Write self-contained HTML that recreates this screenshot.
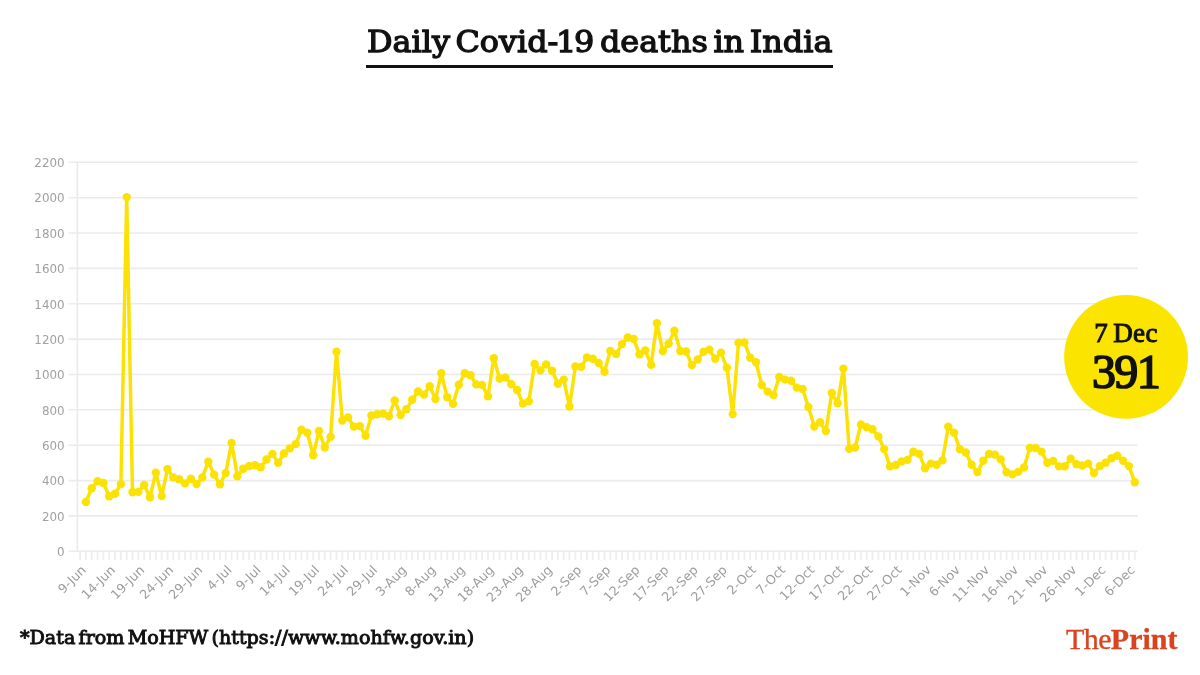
<!DOCTYPE html>
<html><head><meta charset="utf-8"><title>Daily Covid-19 deaths in India</title>
<style>
html,body{margin:0;padding:0;background:#fff;}
body{width:1200px;height:675px;position:relative;overflow:hidden;font-family:"Liberation Serif",serif;}
.title{position:absolute;left:367.2px;top:21.6px;font-family:'DejaVu Serif','Liberation Serif',serif;font-size:30.5px;line-height:40px;color:#111;white-space:nowrap;-webkit-text-stroke:1.3px #111;word-spacing:-4.3px;transform:scaleX(1.044);transform-origin:0 0;}
.title span{letter-spacing:-2.2px;}
.bar{position:absolute;left:366px;top:64.8px;width:467px;height:3.3px;background:#111;}
.foot{position:absolute;left:20.2px;top:624.75px;font-family:'DejaVu Serif','Liberation Serif',serif;font-size:17.8px;line-height:26px;color:#111;white-space:nowrap;-webkit-text-stroke:0.9px #111;word-spacing:-2.6px;transform:scaleX(1.074);transform-origin:0 0;}
.logo{position:absolute;left:1065.5px;top:622px;transform:scaleX(1.033);transform-origin:0 0;font-size:29px;line-height:34px;color:#d9431e;white-space:nowrap;}
.logo b{font-weight:bold;-webkit-text-stroke:0.3px #d9431e;}
.logo span{letter-spacing:-0.55px;-webkit-text-stroke:0.35px #d9431e;}
.b1{position:absolute;left:1064.5px;width:123px;top:317.5px;text-align:center;font-size:27px;line-height:30px;color:#111;white-space:nowrap;-webkit-text-stroke:1.0px #111;word-spacing:-2px;letter-spacing:0.4px;}
.b2{position:absolute;left:1064px;width:123px;top:346.4px;text-align:center;font-size:48px;line-height:52px;color:#111;white-space:nowrap;letter-spacing:-1.7px;-webkit-text-stroke:1.7px #111;}
</style></head><body>
<svg width="1200" height="675" viewBox="0 0 1200 675" style="position:absolute;left:0;top:0">
<g stroke="#ebebeb" stroke-width="1.6" fill="none">
<line x1="68.5" x2="1137.8" y1="551.3" y2="551.3"/>
<line x1="68.5" x2="1137.8" y1="515.9" y2="515.9"/>
<line x1="68.5" x2="1137.8" y1="480.6" y2="480.6"/>
<line x1="68.5" x2="1137.8" y1="445.2" y2="445.2"/>
<line x1="68.5" x2="1137.8" y1="409.8" y2="409.8"/>
<line x1="68.5" x2="1137.8" y1="374.5" y2="374.5"/>
<line x1="68.5" x2="1137.8" y1="339.1" y2="339.1"/>
<line x1="68.5" x2="1137.8" y1="303.8" y2="303.8"/>
<line x1="68.5" x2="1137.8" y1="268.4" y2="268.4"/>
<line x1="68.5" x2="1137.8" y1="233.0" y2="233.0"/>
<line x1="68.5" x2="1137.8" y1="197.7" y2="197.7"/>
<line x1="68.5" x2="1137.8" y1="162.3" y2="162.3"/>
<line x1="77.4" x2="77.4" y1="162.3" y2="551.4"/>
</g>
<g stroke="#eeeeee" stroke-width="1.8">
<line x1="80.1" x2="80.1" y1="551.4" y2="559.9"/>
<line x1="85.9" x2="85.9" y1="551.4" y2="559.9"/>
<line x1="91.7" x2="91.7" y1="551.4" y2="559.9"/>
<line x1="97.6" x2="97.6" y1="551.4" y2="559.9"/>
<line x1="103.4" x2="103.4" y1="551.4" y2="559.9"/>
<line x1="109.2" x2="109.2" y1="551.4" y2="559.9"/>
<line x1="115.0" x2="115.0" y1="551.4" y2="559.9"/>
<line x1="120.9" x2="120.9" y1="551.4" y2="559.9"/>
<line x1="126.7" x2="126.7" y1="551.4" y2="559.9"/>
<line x1="132.5" x2="132.5" y1="551.4" y2="559.9"/>
<line x1="138.3" x2="138.3" y1="551.4" y2="559.9"/>
<line x1="144.2" x2="144.2" y1="551.4" y2="559.9"/>
<line x1="150.0" x2="150.0" y1="551.4" y2="559.9"/>
<line x1="155.8" x2="155.8" y1="551.4" y2="559.9"/>
<line x1="161.7" x2="161.7" y1="551.4" y2="559.9"/>
<line x1="167.5" x2="167.5" y1="551.4" y2="559.9"/>
<line x1="173.3" x2="173.3" y1="551.4" y2="559.9"/>
<line x1="179.1" x2="179.1" y1="551.4" y2="559.9"/>
<line x1="185.0" x2="185.0" y1="551.4" y2="559.9"/>
<line x1="190.8" x2="190.8" y1="551.4" y2="559.9"/>
<line x1="196.6" x2="196.6" y1="551.4" y2="559.9"/>
<line x1="202.4" x2="202.4" y1="551.4" y2="559.9"/>
<line x1="208.3" x2="208.3" y1="551.4" y2="559.9"/>
<line x1="214.1" x2="214.1" y1="551.4" y2="559.9"/>
<line x1="219.9" x2="219.9" y1="551.4" y2="559.9"/>
<line x1="225.7" x2="225.7" y1="551.4" y2="559.9"/>
<line x1="231.6" x2="231.6" y1="551.4" y2="559.9"/>
<line x1="237.4" x2="237.4" y1="551.4" y2="559.9"/>
<line x1="243.2" x2="243.2" y1="551.4" y2="559.9"/>
<line x1="249.1" x2="249.1" y1="551.4" y2="559.9"/>
<line x1="254.9" x2="254.9" y1="551.4" y2="559.9"/>
<line x1="260.7" x2="260.7" y1="551.4" y2="559.9"/>
<line x1="266.5" x2="266.5" y1="551.4" y2="559.9"/>
<line x1="272.4" x2="272.4" y1="551.4" y2="559.9"/>
<line x1="278.2" x2="278.2" y1="551.4" y2="559.9"/>
<line x1="284.0" x2="284.0" y1="551.4" y2="559.9"/>
<line x1="289.8" x2="289.8" y1="551.4" y2="559.9"/>
<line x1="295.7" x2="295.7" y1="551.4" y2="559.9"/>
<line x1="301.5" x2="301.5" y1="551.4" y2="559.9"/>
<line x1="307.3" x2="307.3" y1="551.4" y2="559.9"/>
<line x1="313.2" x2="313.2" y1="551.4" y2="559.9"/>
<line x1="319.0" x2="319.0" y1="551.4" y2="559.9"/>
<line x1="324.8" x2="324.8" y1="551.4" y2="559.9"/>
<line x1="330.6" x2="330.6" y1="551.4" y2="559.9"/>
<line x1="336.5" x2="336.5" y1="551.4" y2="559.9"/>
<line x1="342.3" x2="342.3" y1="551.4" y2="559.9"/>
<line x1="348.1" x2="348.1" y1="551.4" y2="559.9"/>
<line x1="353.9" x2="353.9" y1="551.4" y2="559.9"/>
<line x1="359.8" x2="359.8" y1="551.4" y2="559.9"/>
<line x1="365.6" x2="365.6" y1="551.4" y2="559.9"/>
<line x1="371.4" x2="371.4" y1="551.4" y2="559.9"/>
<line x1="377.2" x2="377.2" y1="551.4" y2="559.9"/>
<line x1="383.1" x2="383.1" y1="551.4" y2="559.9"/>
<line x1="388.9" x2="388.9" y1="551.4" y2="559.9"/>
<line x1="394.7" x2="394.7" y1="551.4" y2="559.9"/>
<line x1="400.6" x2="400.6" y1="551.4" y2="559.9"/>
<line x1="406.4" x2="406.4" y1="551.4" y2="559.9"/>
<line x1="412.2" x2="412.2" y1="551.4" y2="559.9"/>
<line x1="418.0" x2="418.0" y1="551.4" y2="559.9"/>
<line x1="423.9" x2="423.9" y1="551.4" y2="559.9"/>
<line x1="429.7" x2="429.7" y1="551.4" y2="559.9"/>
<line x1="435.5" x2="435.5" y1="551.4" y2="559.9"/>
<line x1="441.3" x2="441.3" y1="551.4" y2="559.9"/>
<line x1="447.2" x2="447.2" y1="551.4" y2="559.9"/>
<line x1="453.0" x2="453.0" y1="551.4" y2="559.9"/>
<line x1="458.8" x2="458.8" y1="551.4" y2="559.9"/>
<line x1="464.7" x2="464.7" y1="551.4" y2="559.9"/>
<line x1="470.5" x2="470.5" y1="551.4" y2="559.9"/>
<line x1="476.3" x2="476.3" y1="551.4" y2="559.9"/>
<line x1="482.1" x2="482.1" y1="551.4" y2="559.9"/>
<line x1="488.0" x2="488.0" y1="551.4" y2="559.9"/>
<line x1="493.8" x2="493.8" y1="551.4" y2="559.9"/>
<line x1="499.6" x2="499.6" y1="551.4" y2="559.9"/>
<line x1="505.4" x2="505.4" y1="551.4" y2="559.9"/>
<line x1="511.3" x2="511.3" y1="551.4" y2="559.9"/>
<line x1="517.1" x2="517.1" y1="551.4" y2="559.9"/>
<line x1="522.9" x2="522.9" y1="551.4" y2="559.9"/>
<line x1="528.8" x2="528.8" y1="551.4" y2="559.9"/>
<line x1="534.6" x2="534.6" y1="551.4" y2="559.9"/>
<line x1="540.4" x2="540.4" y1="551.4" y2="559.9"/>
<line x1="546.2" x2="546.2" y1="551.4" y2="559.9"/>
<line x1="552.1" x2="552.1" y1="551.4" y2="559.9"/>
<line x1="557.9" x2="557.9" y1="551.4" y2="559.9"/>
<line x1="563.7" x2="563.7" y1="551.4" y2="559.9"/>
<line x1="569.5" x2="569.5" y1="551.4" y2="559.9"/>
<line x1="575.4" x2="575.4" y1="551.4" y2="559.9"/>
<line x1="581.2" x2="581.2" y1="551.4" y2="559.9"/>
<line x1="587.0" x2="587.0" y1="551.4" y2="559.9"/>
<line x1="592.8" x2="592.8" y1="551.4" y2="559.9"/>
<line x1="598.7" x2="598.7" y1="551.4" y2="559.9"/>
<line x1="604.5" x2="604.5" y1="551.4" y2="559.9"/>
<line x1="610.3" x2="610.3" y1="551.4" y2="559.9"/>
<line x1="616.2" x2="616.2" y1="551.4" y2="559.9"/>
<line x1="622.0" x2="622.0" y1="551.4" y2="559.9"/>
<line x1="627.8" x2="627.8" y1="551.4" y2="559.9"/>
<line x1="633.6" x2="633.6" y1="551.4" y2="559.9"/>
<line x1="639.5" x2="639.5" y1="551.4" y2="559.9"/>
<line x1="645.3" x2="645.3" y1="551.4" y2="559.9"/>
<line x1="651.1" x2="651.1" y1="551.4" y2="559.9"/>
<line x1="656.9" x2="656.9" y1="551.4" y2="559.9"/>
<line x1="662.8" x2="662.8" y1="551.4" y2="559.9"/>
<line x1="668.6" x2="668.6" y1="551.4" y2="559.9"/>
<line x1="674.4" x2="674.4" y1="551.4" y2="559.9"/>
<line x1="680.3" x2="680.3" y1="551.4" y2="559.9"/>
<line x1="686.1" x2="686.1" y1="551.4" y2="559.9"/>
<line x1="691.9" x2="691.9" y1="551.4" y2="559.9"/>
<line x1="697.7" x2="697.7" y1="551.4" y2="559.9"/>
<line x1="703.6" x2="703.6" y1="551.4" y2="559.9"/>
<line x1="709.4" x2="709.4" y1="551.4" y2="559.9"/>
<line x1="715.2" x2="715.2" y1="551.4" y2="559.9"/>
<line x1="721.0" x2="721.0" y1="551.4" y2="559.9"/>
<line x1="726.9" x2="726.9" y1="551.4" y2="559.9"/>
<line x1="732.7" x2="732.7" y1="551.4" y2="559.9"/>
<line x1="738.5" x2="738.5" y1="551.4" y2="559.9"/>
<line x1="744.4" x2="744.4" y1="551.4" y2="559.9"/>
<line x1="750.2" x2="750.2" y1="551.4" y2="559.9"/>
<line x1="756.0" x2="756.0" y1="551.4" y2="559.9"/>
<line x1="761.8" x2="761.8" y1="551.4" y2="559.9"/>
<line x1="767.7" x2="767.7" y1="551.4" y2="559.9"/>
<line x1="773.5" x2="773.5" y1="551.4" y2="559.9"/>
<line x1="779.3" x2="779.3" y1="551.4" y2="559.9"/>
<line x1="785.1" x2="785.1" y1="551.4" y2="559.9"/>
<line x1="791.0" x2="791.0" y1="551.4" y2="559.9"/>
<line x1="796.8" x2="796.8" y1="551.4" y2="559.9"/>
<line x1="802.6" x2="802.6" y1="551.4" y2="559.9"/>
<line x1="808.4" x2="808.4" y1="551.4" y2="559.9"/>
<line x1="814.3" x2="814.3" y1="551.4" y2="559.9"/>
<line x1="820.1" x2="820.1" y1="551.4" y2="559.9"/>
<line x1="825.9" x2="825.9" y1="551.4" y2="559.9"/>
<line x1="831.8" x2="831.8" y1="551.4" y2="559.9"/>
<line x1="837.6" x2="837.6" y1="551.4" y2="559.9"/>
<line x1="843.4" x2="843.4" y1="551.4" y2="559.9"/>
<line x1="849.2" x2="849.2" y1="551.4" y2="559.9"/>
<line x1="855.1" x2="855.1" y1="551.4" y2="559.9"/>
<line x1="860.9" x2="860.9" y1="551.4" y2="559.9"/>
<line x1="866.7" x2="866.7" y1="551.4" y2="559.9"/>
<line x1="872.5" x2="872.5" y1="551.4" y2="559.9"/>
<line x1="878.4" x2="878.4" y1="551.4" y2="559.9"/>
<line x1="884.2" x2="884.2" y1="551.4" y2="559.9"/>
<line x1="890.0" x2="890.0" y1="551.4" y2="559.9"/>
<line x1="895.9" x2="895.9" y1="551.4" y2="559.9"/>
<line x1="901.7" x2="901.7" y1="551.4" y2="559.9"/>
<line x1="907.5" x2="907.5" y1="551.4" y2="559.9"/>
<line x1="913.3" x2="913.3" y1="551.4" y2="559.9"/>
<line x1="919.2" x2="919.2" y1="551.4" y2="559.9"/>
<line x1="925.0" x2="925.0" y1="551.4" y2="559.9"/>
<line x1="930.8" x2="930.8" y1="551.4" y2="559.9"/>
<line x1="936.6" x2="936.6" y1="551.4" y2="559.9"/>
<line x1="942.5" x2="942.5" y1="551.4" y2="559.9"/>
<line x1="948.3" x2="948.3" y1="551.4" y2="559.9"/>
<line x1="954.1" x2="954.1" y1="551.4" y2="559.9"/>
<line x1="959.9" x2="959.9" y1="551.4" y2="559.9"/>
<line x1="965.8" x2="965.8" y1="551.4" y2="559.9"/>
<line x1="971.6" x2="971.6" y1="551.4" y2="559.9"/>
<line x1="977.4" x2="977.4" y1="551.4" y2="559.9"/>
<line x1="983.3" x2="983.3" y1="551.4" y2="559.9"/>
<line x1="989.1" x2="989.1" y1="551.4" y2="559.9"/>
<line x1="994.9" x2="994.9" y1="551.4" y2="559.9"/>
<line x1="1000.7" x2="1000.7" y1="551.4" y2="559.9"/>
<line x1="1006.6" x2="1006.6" y1="551.4" y2="559.9"/>
<line x1="1012.4" x2="1012.4" y1="551.4" y2="559.9"/>
<line x1="1018.2" x2="1018.2" y1="551.4" y2="559.9"/>
<line x1="1024.0" x2="1024.0" y1="551.4" y2="559.9"/>
<line x1="1029.9" x2="1029.9" y1="551.4" y2="559.9"/>
<line x1="1035.7" x2="1035.7" y1="551.4" y2="559.9"/>
<line x1="1041.5" x2="1041.5" y1="551.4" y2="559.9"/>
<line x1="1047.4" x2="1047.4" y1="551.4" y2="559.9"/>
<line x1="1053.2" x2="1053.2" y1="551.4" y2="559.9"/>
<line x1="1059.0" x2="1059.0" y1="551.4" y2="559.9"/>
<line x1="1064.8" x2="1064.8" y1="551.4" y2="559.9"/>
<line x1="1070.7" x2="1070.7" y1="551.4" y2="559.9"/>
<line x1="1076.5" x2="1076.5" y1="551.4" y2="559.9"/>
<line x1="1082.3" x2="1082.3" y1="551.4" y2="559.9"/>
<line x1="1088.1" x2="1088.1" y1="551.4" y2="559.9"/>
<line x1="1094.0" x2="1094.0" y1="551.4" y2="559.9"/>
<line x1="1099.8" x2="1099.8" y1="551.4" y2="559.9"/>
<line x1="1105.6" x2="1105.6" y1="551.4" y2="559.9"/>
<line x1="1111.5" x2="1111.5" y1="551.4" y2="559.9"/>
<line x1="1117.3" x2="1117.3" y1="551.4" y2="559.9"/>
<line x1="1123.1" x2="1123.1" y1="551.4" y2="559.9"/>
<line x1="1128.9" x2="1128.9" y1="551.4" y2="559.9"/>
<line x1="1134.8" x2="1134.8" y1="551.4" y2="559.9"/>
</g>
<g font-family="DejaVu Sans, Verdana, sans-serif" font-size="11.9" fill="#a0a0a0" text-anchor="end">
<text x="64.6" y="556.0">0</text>
<text x="64.6" y="520.6">200</text>
<text x="64.6" y="485.3">400</text>
<text x="64.6" y="449.9">600</text>
<text x="64.6" y="414.5">800</text>
<text x="64.6" y="379.2">1000</text>
<text x="64.6" y="343.8">1200</text>
<text x="64.6" y="308.5">1400</text>
<text x="64.6" y="273.1">1600</text>
<text x="64.6" y="237.7">1800</text>
<text x="64.6" y="202.4">2000</text>
<text x="64.6" y="167.0">2200</text>
</g>
<g font-family="DejaVu Sans, Verdana, sans-serif" font-size="12.7" fill="#9c9c9c" text-anchor="end">
<text transform="translate(86.8,570.8) rotate(-45)">9-Jun</text>
<text transform="translate(115.9,570.8) rotate(-45)">14-Jun</text>
<text transform="translate(145.1,570.8) rotate(-45)">19-Jun</text>
<text transform="translate(174.2,570.8) rotate(-45)">24-Jun</text>
<text transform="translate(203.3,570.8) rotate(-45)">29-Jun</text>
<text transform="translate(232.5,570.8) rotate(-45)">4-Jul</text>
<text transform="translate(261.6,570.8) rotate(-45)">9-Jul</text>
<text transform="translate(290.7,570.8) rotate(-45)">14-Jul</text>
<text transform="translate(319.9,570.8) rotate(-45)">19-Jul</text>
<text transform="translate(349.0,570.8) rotate(-45)">24-Jul</text>
<text transform="translate(378.1,570.8) rotate(-45)">29-Jul</text>
<text transform="translate(407.3,570.8) rotate(-45)">3-Aug</text>
<text transform="translate(436.4,570.8) rotate(-45)">8-Aug</text>
<text transform="translate(465.6,570.8) rotate(-45)">13-Aug</text>
<text transform="translate(494.7,570.8) rotate(-45)">18-Aug</text>
<text transform="translate(523.8,570.8) rotate(-45)">23-Aug</text>
<text transform="translate(553.0,570.8) rotate(-45)">28-Aug</text>
<text transform="translate(582.1,570.8) rotate(-45)">2-Sep</text>
<text transform="translate(611.2,570.8) rotate(-45)">7-Sep</text>
<text transform="translate(640.4,570.8) rotate(-45)">12-Sep</text>
<text transform="translate(669.5,570.8) rotate(-45)">17-Sep</text>
<text transform="translate(698.6,570.8) rotate(-45)">22-Sep</text>
<text transform="translate(727.8,570.8) rotate(-45)">27-Sep</text>
<text transform="translate(756.9,570.8) rotate(-45)">2-Oct</text>
<text transform="translate(786.0,570.8) rotate(-45)">7-Oct</text>
<text transform="translate(815.2,570.8) rotate(-45)">12-Oct</text>
<text transform="translate(844.3,570.8) rotate(-45)">17-Oct</text>
<text transform="translate(873.4,570.8) rotate(-45)">22-Oct</text>
<text transform="translate(902.6,570.8) rotate(-45)">27-Oct</text>
<text transform="translate(931.7,570.8) rotate(-45)">1-Nov</text>
<text transform="translate(960.8,570.8) rotate(-45)">6-Nov</text>
<text transform="translate(990.0,570.8) rotate(-45)">11-Nov</text>
<text transform="translate(1019.1,570.8) rotate(-45)">16-Nov</text>
<text transform="translate(1048.3,570.8) rotate(-45)">21- Nov</text>
<text transform="translate(1077.4,570.8) rotate(-45)">26-Nov</text>
<text transform="translate(1106.5,570.8) rotate(-45)">1-Dec</text>
<text transform="translate(1135.7,570.8) rotate(-45)">6-Dec</text>
</g>
<polyline points="85.9,502.0 91.7,488.2 97.6,481.3 103.4,483.0 109.2,496.3 115.0,493.8 120.9,484.1 126.7,197.1 132.5,492.2 138.3,491.9 144.2,485.0 150.0,497.2 155.8,472.6 161.7,496.1 167.5,469.1 173.3,477.4 179.1,479.3 185.0,483.4 190.8,478.8 196.6,484.1 202.4,477.4 208.3,461.7 214.1,474.6 219.9,484.3 225.7,473.1 231.6,442.9 237.4,476.2 243.2,468.7 249.1,466.1 254.9,465.2 260.7,467.3 266.5,459.5 272.4,453.9 278.2,462.9 284.0,453.5 289.8,448.4 295.7,444.1 301.5,429.8 307.3,432.7 313.2,455.3 319.0,430.9 324.8,447.5 330.6,436.7 336.5,351.7 342.3,420.5 348.1,417.4 353.9,426.6 359.8,426.1 365.6,435.7 371.4,415.5 377.2,414.3 383.1,413.6 388.9,416.2 394.7,400.5 400.6,415.0 406.4,409.3 412.2,399.8 418.0,391.5 423.9,394.6 429.7,386.3 435.5,399.1 441.3,373.2 447.2,397.3 453.0,403.8 458.8,384.7 464.7,373.2 470.5,375.2 476.3,384.4 482.1,384.9 488.0,396.4 493.8,358.2 499.6,378.5 505.4,377.5 511.3,384.2 517.1,390.0 522.9,403.5 528.8,401.4 534.6,364.0 540.4,370.4 546.2,364.4 552.1,370.8 557.9,383.7 563.7,379.6 569.5,406.5 575.4,366.5 581.2,366.9 587.0,357.5 592.8,358.7 598.7,363.0 604.5,371.7 610.3,351.0 616.2,354.1 622.0,344.1 627.8,337.5 633.6,338.9 639.5,354.3 645.3,350.4 651.1,364.9 656.9,323.2 662.8,351.1 668.6,343.7 674.4,330.8 680.3,351.0 686.1,351.5 691.9,365.1 697.7,359.5 703.6,351.7 709.4,349.6 715.2,358.7 721.0,352.6 726.9,367.6 732.7,414.1 738.5,342.8 744.4,342.5 750.2,357.7 756.0,362.3 761.8,385.1 767.7,391.6 773.5,395.0 779.3,377.0 785.1,379.6 791.0,380.8 796.8,387.6 802.6,389.0 808.4,407.0 814.3,426.5 820.1,422.2 825.9,431.1 831.8,393.0 837.6,403.3 843.4,368.6 849.2,448.9 855.1,447.5 860.9,424.5 866.7,427.2 872.5,429.3 878.4,436.4 884.2,449.1 890.0,466.4 895.9,465.0 901.7,461.5 907.5,459.9 913.3,451.8 919.2,453.9 925.0,468.2 930.8,463.6 936.6,464.7 942.5,460.4 948.3,426.8 954.1,432.8 959.9,449.3 965.8,452.5 971.6,464.7 977.4,472.1 983.3,460.8 989.1,454.0 994.9,454.6 1000.7,459.4 1006.6,472.3 1012.4,474.4 1018.2,471.9 1024.0,467.5 1029.9,447.9 1035.7,448.0 1041.5,451.6 1047.4,462.7 1053.2,460.9 1059.0,466.4 1064.8,466.3 1070.7,458.6 1076.5,464.3 1082.3,465.5 1088.1,463.6 1094.0,473.0 1099.8,466.1 1105.6,462.7 1111.5,458.3 1117.3,455.8 1123.1,460.8 1128.9,466.1 1134.8,482.2" fill="none" stroke="#fbe204" stroke-width="3.5" stroke-linejoin="round" stroke-linecap="round"/>
<g fill="#fbe204">
<circle cx="85.9" cy="502.0" r="4.2"/>
<circle cx="91.7" cy="488.2" r="4.2"/>
<circle cx="97.6" cy="481.3" r="4.2"/>
<circle cx="103.4" cy="483.0" r="4.2"/>
<circle cx="109.2" cy="496.3" r="4.2"/>
<circle cx="115.0" cy="493.8" r="4.2"/>
<circle cx="120.9" cy="484.1" r="4.2"/>
<circle cx="126.7" cy="197.1" r="4.2"/>
<circle cx="132.5" cy="492.2" r="4.2"/>
<circle cx="138.3" cy="491.9" r="4.2"/>
<circle cx="144.2" cy="485.0" r="4.2"/>
<circle cx="150.0" cy="497.2" r="4.2"/>
<circle cx="155.8" cy="472.6" r="4.2"/>
<circle cx="161.7" cy="496.1" r="4.2"/>
<circle cx="167.5" cy="469.1" r="4.2"/>
<circle cx="173.3" cy="477.4" r="4.2"/>
<circle cx="179.1" cy="479.3" r="4.2"/>
<circle cx="185.0" cy="483.4" r="4.2"/>
<circle cx="190.8" cy="478.8" r="4.2"/>
<circle cx="196.6" cy="484.1" r="4.2"/>
<circle cx="202.4" cy="477.4" r="4.2"/>
<circle cx="208.3" cy="461.7" r="4.2"/>
<circle cx="214.1" cy="474.6" r="4.2"/>
<circle cx="219.9" cy="484.3" r="4.2"/>
<circle cx="225.7" cy="473.1" r="4.2"/>
<circle cx="231.6" cy="442.9" r="4.2"/>
<circle cx="237.4" cy="476.2" r="4.2"/>
<circle cx="243.2" cy="468.7" r="4.2"/>
<circle cx="249.1" cy="466.1" r="4.2"/>
<circle cx="254.9" cy="465.2" r="4.2"/>
<circle cx="260.7" cy="467.3" r="4.2"/>
<circle cx="266.5" cy="459.5" r="4.2"/>
<circle cx="272.4" cy="453.9" r="4.2"/>
<circle cx="278.2" cy="462.9" r="4.2"/>
<circle cx="284.0" cy="453.5" r="4.2"/>
<circle cx="289.8" cy="448.4" r="4.2"/>
<circle cx="295.7" cy="444.1" r="4.2"/>
<circle cx="301.5" cy="429.8" r="4.2"/>
<circle cx="307.3" cy="432.7" r="4.2"/>
<circle cx="313.2" cy="455.3" r="4.2"/>
<circle cx="319.0" cy="430.9" r="4.2"/>
<circle cx="324.8" cy="447.5" r="4.2"/>
<circle cx="330.6" cy="436.7" r="4.2"/>
<circle cx="336.5" cy="351.7" r="4.2"/>
<circle cx="342.3" cy="420.5" r="4.2"/>
<circle cx="348.1" cy="417.4" r="4.2"/>
<circle cx="353.9" cy="426.6" r="4.2"/>
<circle cx="359.8" cy="426.1" r="4.2"/>
<circle cx="365.6" cy="435.7" r="4.2"/>
<circle cx="371.4" cy="415.5" r="4.2"/>
<circle cx="377.2" cy="414.3" r="4.2"/>
<circle cx="383.1" cy="413.6" r="4.2"/>
<circle cx="388.9" cy="416.2" r="4.2"/>
<circle cx="394.7" cy="400.5" r="4.2"/>
<circle cx="400.6" cy="415.0" r="4.2"/>
<circle cx="406.4" cy="409.3" r="4.2"/>
<circle cx="412.2" cy="399.8" r="4.2"/>
<circle cx="418.0" cy="391.5" r="4.2"/>
<circle cx="423.9" cy="394.6" r="4.2"/>
<circle cx="429.7" cy="386.3" r="4.2"/>
<circle cx="435.5" cy="399.1" r="4.2"/>
<circle cx="441.3" cy="373.2" r="4.2"/>
<circle cx="447.2" cy="397.3" r="4.2"/>
<circle cx="453.0" cy="403.8" r="4.2"/>
<circle cx="458.8" cy="384.7" r="4.2"/>
<circle cx="464.7" cy="373.2" r="4.2"/>
<circle cx="470.5" cy="375.2" r="4.2"/>
<circle cx="476.3" cy="384.4" r="4.2"/>
<circle cx="482.1" cy="384.9" r="4.2"/>
<circle cx="488.0" cy="396.4" r="4.2"/>
<circle cx="493.8" cy="358.2" r="4.2"/>
<circle cx="499.6" cy="378.5" r="4.2"/>
<circle cx="505.4" cy="377.5" r="4.2"/>
<circle cx="511.3" cy="384.2" r="4.2"/>
<circle cx="517.1" cy="390.0" r="4.2"/>
<circle cx="522.9" cy="403.5" r="4.2"/>
<circle cx="528.8" cy="401.4" r="4.2"/>
<circle cx="534.6" cy="364.0" r="4.2"/>
<circle cx="540.4" cy="370.4" r="4.2"/>
<circle cx="546.2" cy="364.4" r="4.2"/>
<circle cx="552.1" cy="370.8" r="4.2"/>
<circle cx="557.9" cy="383.7" r="4.2"/>
<circle cx="563.7" cy="379.6" r="4.2"/>
<circle cx="569.5" cy="406.5" r="4.2"/>
<circle cx="575.4" cy="366.5" r="4.2"/>
<circle cx="581.2" cy="366.9" r="4.2"/>
<circle cx="587.0" cy="357.5" r="4.2"/>
<circle cx="592.8" cy="358.7" r="4.2"/>
<circle cx="598.7" cy="363.0" r="4.2"/>
<circle cx="604.5" cy="371.7" r="4.2"/>
<circle cx="610.3" cy="351.0" r="4.2"/>
<circle cx="616.2" cy="354.1" r="4.2"/>
<circle cx="622.0" cy="344.1" r="4.2"/>
<circle cx="627.8" cy="337.5" r="4.2"/>
<circle cx="633.6" cy="338.9" r="4.2"/>
<circle cx="639.5" cy="354.3" r="4.2"/>
<circle cx="645.3" cy="350.4" r="4.2"/>
<circle cx="651.1" cy="364.9" r="4.2"/>
<circle cx="656.9" cy="323.2" r="4.2"/>
<circle cx="662.8" cy="351.1" r="4.2"/>
<circle cx="668.6" cy="343.7" r="4.2"/>
<circle cx="674.4" cy="330.8" r="4.2"/>
<circle cx="680.3" cy="351.0" r="4.2"/>
<circle cx="686.1" cy="351.5" r="4.2"/>
<circle cx="691.9" cy="365.1" r="4.2"/>
<circle cx="697.7" cy="359.5" r="4.2"/>
<circle cx="703.6" cy="351.7" r="4.2"/>
<circle cx="709.4" cy="349.6" r="4.2"/>
<circle cx="715.2" cy="358.7" r="4.2"/>
<circle cx="721.0" cy="352.6" r="4.2"/>
<circle cx="726.9" cy="367.6" r="4.2"/>
<circle cx="732.7" cy="414.1" r="4.2"/>
<circle cx="738.5" cy="342.8" r="4.2"/>
<circle cx="744.4" cy="342.5" r="4.2"/>
<circle cx="750.2" cy="357.7" r="4.2"/>
<circle cx="756.0" cy="362.3" r="4.2"/>
<circle cx="761.8" cy="385.1" r="4.2"/>
<circle cx="767.7" cy="391.6" r="4.2"/>
<circle cx="773.5" cy="395.0" r="4.2"/>
<circle cx="779.3" cy="377.0" r="4.2"/>
<circle cx="785.1" cy="379.6" r="4.2"/>
<circle cx="791.0" cy="380.8" r="4.2"/>
<circle cx="796.8" cy="387.6" r="4.2"/>
<circle cx="802.6" cy="389.0" r="4.2"/>
<circle cx="808.4" cy="407.0" r="4.2"/>
<circle cx="814.3" cy="426.5" r="4.2"/>
<circle cx="820.1" cy="422.2" r="4.2"/>
<circle cx="825.9" cy="431.1" r="4.2"/>
<circle cx="831.8" cy="393.0" r="4.2"/>
<circle cx="837.6" cy="403.3" r="4.2"/>
<circle cx="843.4" cy="368.6" r="4.2"/>
<circle cx="849.2" cy="448.9" r="4.2"/>
<circle cx="855.1" cy="447.5" r="4.2"/>
<circle cx="860.9" cy="424.5" r="4.2"/>
<circle cx="866.7" cy="427.2" r="4.2"/>
<circle cx="872.5" cy="429.3" r="4.2"/>
<circle cx="878.4" cy="436.4" r="4.2"/>
<circle cx="884.2" cy="449.1" r="4.2"/>
<circle cx="890.0" cy="466.4" r="4.2"/>
<circle cx="895.9" cy="465.0" r="4.2"/>
<circle cx="901.7" cy="461.5" r="4.2"/>
<circle cx="907.5" cy="459.9" r="4.2"/>
<circle cx="913.3" cy="451.8" r="4.2"/>
<circle cx="919.2" cy="453.9" r="4.2"/>
<circle cx="925.0" cy="468.2" r="4.2"/>
<circle cx="930.8" cy="463.6" r="4.2"/>
<circle cx="936.6" cy="464.7" r="4.2"/>
<circle cx="942.5" cy="460.4" r="4.2"/>
<circle cx="948.3" cy="426.8" r="4.2"/>
<circle cx="954.1" cy="432.8" r="4.2"/>
<circle cx="959.9" cy="449.3" r="4.2"/>
<circle cx="965.8" cy="452.5" r="4.2"/>
<circle cx="971.6" cy="464.7" r="4.2"/>
<circle cx="977.4" cy="472.1" r="4.2"/>
<circle cx="983.3" cy="460.8" r="4.2"/>
<circle cx="989.1" cy="454.0" r="4.2"/>
<circle cx="994.9" cy="454.6" r="4.2"/>
<circle cx="1000.7" cy="459.4" r="4.2"/>
<circle cx="1006.6" cy="472.3" r="4.2"/>
<circle cx="1012.4" cy="474.4" r="4.2"/>
<circle cx="1018.2" cy="471.9" r="4.2"/>
<circle cx="1024.0" cy="467.5" r="4.2"/>
<circle cx="1029.9" cy="447.9" r="4.2"/>
<circle cx="1035.7" cy="448.0" r="4.2"/>
<circle cx="1041.5" cy="451.6" r="4.2"/>
<circle cx="1047.4" cy="462.7" r="4.2"/>
<circle cx="1053.2" cy="460.9" r="4.2"/>
<circle cx="1059.0" cy="466.4" r="4.2"/>
<circle cx="1064.8" cy="466.3" r="4.2"/>
<circle cx="1070.7" cy="458.6" r="4.2"/>
<circle cx="1076.5" cy="464.3" r="4.2"/>
<circle cx="1082.3" cy="465.5" r="4.2"/>
<circle cx="1088.1" cy="463.6" r="4.2"/>
<circle cx="1094.0" cy="473.0" r="4.2"/>
<circle cx="1099.8" cy="466.1" r="4.2"/>
<circle cx="1105.6" cy="462.7" r="4.2"/>
<circle cx="1111.5" cy="458.3" r="4.2"/>
<circle cx="1117.3" cy="455.8" r="4.2"/>
<circle cx="1123.1" cy="460.8" r="4.2"/>
<circle cx="1128.9" cy="466.1" r="4.2"/>
<circle cx="1134.8" cy="482.2" r="4.2"/>
</g>
<circle cx="1126.05" cy="356.9" r="61.9" fill="#fbe400"/>
</svg>
<div class="title">Daily Covid<span>-1</span>9 deaths in India</div>
<div class="bar"></div>
<div class="foot">*Data from MoHFW (https://www.mohfw.gov.in)</div>
<div class="logo"><span>The</span><b>Print</b></div>
<div class="b1">7 Dec</div>
<div class="b2">391</div>
</body></html>
